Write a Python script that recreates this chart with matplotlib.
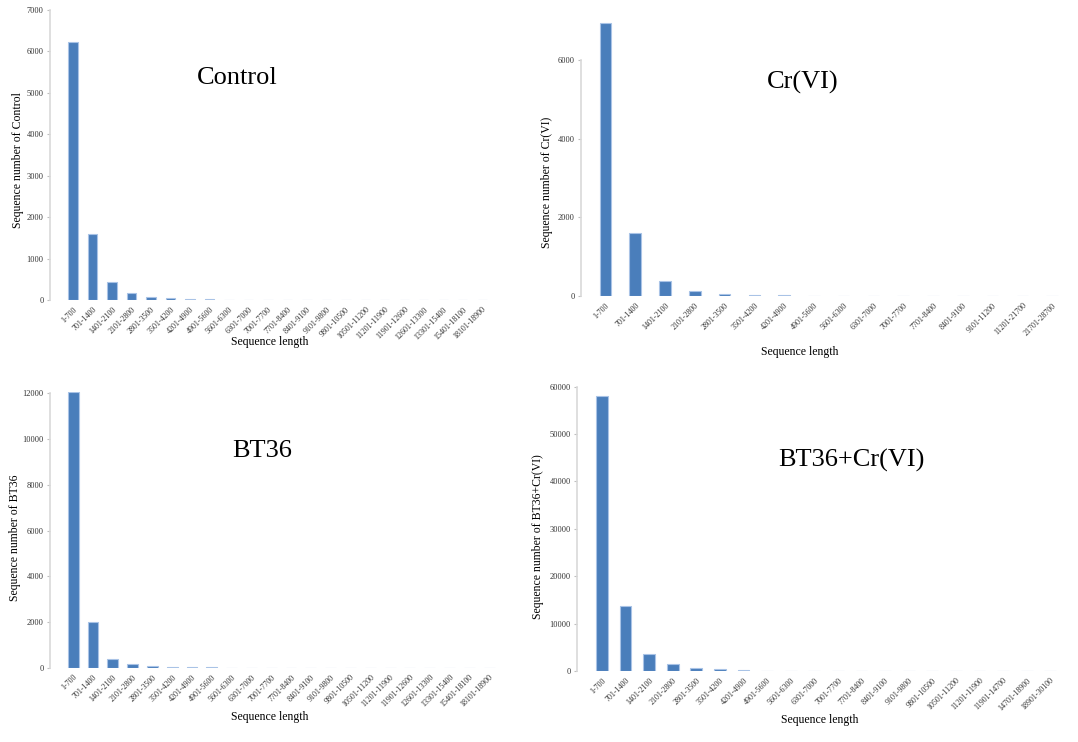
import matplotlib
matplotlib.use("Agg")
import matplotlib.pyplot as plt

plt.rcParams['font.family'] = ['Liberation Serif', 'DejaVu Serif']

# categorias del eje x
cats_control = ['1-700', '701-1400', '1401-2100', '2101-2800', '2801-3500', '3501-4200',
                '4201-4900', '4901-5600', '5601-6300', '6301-7000', '7001-7700', '7701-8400',
                '8401-9100', '9101-9800', '9801-10500', '10501-11200', '11201-11900',
                '11901-12600', '12601-13300', '13301-15400', '15401-18100', '18101-18900']
cats_cr = ['1-700', '701-1400', '1401-2100', '2101-2800', '2801-3500', '3501-4200',
           '4201-4900', '4901-5600', '5601-6300', '6301-7000', '7001-7700', '7701-8400',
           '8401-9100', '9101-11200', '11201-21700', '21701-28700']
cats_bt36 = list(cats_control)
cats_bt36cr = ['1-700', '701-1400', '1401-2100', '2101-2800', '2801-3500', '3501-4200',
               '4201-4900', '4901-5600', '5601-6300', '6301-7000', '7001-7700', '7701-8400',
               '8401-9100', '9101-9800', '9801-10500', '10501-11200', '11201-11900',
               '11901-14700', '14701-18900', '18901-30100']

# valores
vals_control = [6230, 1600, 430, 165, 80, 40, 25, 15, 8, 4, 3, 1, 1, 1, 1, 1, 1, 1, 1, 1, 1, 1]
vals_cr = [6950, 1600, 380, 130, 60, 35, 15, 8, 1, 1, 1, 1, 1, 1, 1, 1]
vals_bt36 = [12050, 2000, 400, 150, 70, 20, 10, 25, 2, 1, 1, 1, 1, 1, 1, 1, 1, 1, 1, 1, 1, 1]
vals_bt36cr = [58000, 13700, 3600, 1400, 700, 400, 200, 100, 10, 5, 3, 2, 2, 1, 1, 1, 1, 1, 1, 1]

W, H = 1078, 742
fig = plt.figure(figsize=(W / 100, H / 100), dpi=100)

BAR = '#4a7ebb'
EDGE = '#a9c3e6'
GRIS = '#d9d9d9'


def panel(box, cats, vals, xlo, ymax, yticks, width, ylabel, name, name_xy, ylab_xy, xlab_xy):
    l, t, r, b = box
    ax = fig.add_axes([l / W, 1 - b / H, (r - l) / W, (b - t) / H])
    x = range(len(cats))
    ax.bar(x, vals, width=width, color=BAR, edgecolor=EDGE, linewidth=0.8)
    ax.set_xlim(xlo, len(cats) - 0.5)
    ax.set_ylim(0, ymax)
    ax.set_yticks(yticks)
    ax.set_yticklabels([str(v) for v in yticks], fontsize=6, color='#333333')
    ax.set_xticks(list(x))
    ax.set_xticklabels(cats, fontsize=5.8, color='#333333', rotation=45,
                       ha='right', rotation_mode='anchor')
    ax.tick_params(axis='x', length=0, pad=4)
    ax.tick_params(axis='y', length=2.5, color='#bfbfbf', pad=2)
    for s in ['top', 'right', 'bottom']:
        ax.spines[s].set_visible(False)
    ax.spines['left'].set_color(GRIS)
    ax.spines['left'].set_linewidth(1.2)
    ax.spines['left'].set_bounds(0, yticks[-1])
    ax.patch.set_alpha(0)
    fig.text(name_xy[0] / W, 1 - name_xy[1] / H, name, fontsize=19,
             ha='center', va='center')
    fig.text(ylab_xy[0] / W, 1 - ylab_xy[1] / H, ylabel, fontsize=8.5,
             rotation=90, ha='center', va='center')
    fig.text(xlab_xy[0] / W, 1 - xlab_xy[1] / H, 'Sequence length', fontsize=8.5,
             ha='center', va='center')
    return ax


panel((50, 10, 492, 300), cats_control, vals_control, -1.18, 7000,
      list(range(0, 7001, 1000)), 0.48, 'Sequence number of Control',
      'Control', (237, 78), (18, 160), (270, 342))

panel((581, 20.7, 1067, 296), cats_cr, vals_cr, -0.82, 7000,
      [0, 2000, 4000, 6000], 0.39, 'Sequence number of Cr(VI)',
      'Cr(VI)', (803, 82), (547, 182), (800, 352))

panel((50, 392.2, 499, 667.7), cats_bt36, vals_bt36, -1.17, 12050,
      list(range(0, 12001, 2000)), 0.55, 'Sequence number of BT36',
      'BT36', (262, 451), (15, 538), (270, 717))

panel((577, 386.7, 1062, 671), cats_bt36cr, vals_bt36cr, -1.06, 60000,
      list(range(0, 60001, 10000)), 0.5, 'Sequence number of BT36+Cr(VI)',
      'BT36+Cr(VI)', (851, 460), (538, 537), (820, 720))

plt.savefig('out.png', dpi=100)
